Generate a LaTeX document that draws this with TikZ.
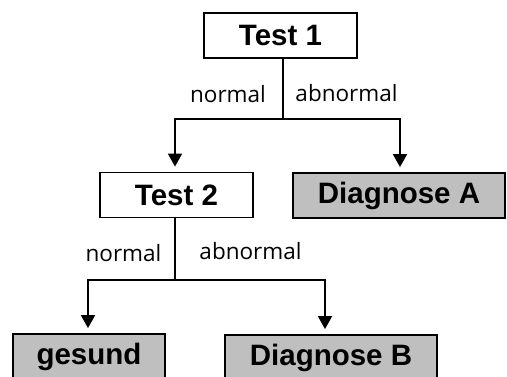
\documentclass[tikz,border=0pt]{standalone}
\usepackage{fontspec}
\setmainfont{Liberation Sans}
\newfontfamily\labelfont{Open Sans}
\usetikzlibrary{arrows.meta,positioning,calc}

\begin{document}
\begin{tikzpicture}[x=1pt,y=-1pt,
        box/.style={draw, line width=1.8pt, minimum height=45pt, inner sep=0pt,
            font=\fontsize{29.5}{31}\selectfont\bfseries},
        result/.style={box, fill=black!25},
        branch/.style={font=\labelfont\fontsize{22.5}{24}\selectfont, inner sep=0pt, anchor=base},
        line/.style={line width=1.8pt},
        arr/.style={line, -{Triangle[width=14pt,length=13pt]}, shorten >=5pt}]
            \path[use as bounding box, clip] (0,0) rectangle (507,377);
            \node[box, minimum width=153pt] (test1) at (280.5,35.5) {Test 1};
            \node[box, minimum width=153pt] (test2) at (176.5,195) {Test 2};
            \node[result, minimum width=212pt] (diagA) at (399,195.5) {Diagnose A};
            \node[result, minimum width=152pt] (gesund) at (89,356.5) {gesund};
            \node[result, minimum width=212pt] (diagB) at (331,357.5) {Diagnose B};
            \draw[line] ([xshift=2.5pt]test1.south) -- ++(0,60) coordinate (split1);
            \draw[arr] (split1) -| ([xshift=-1.5pt]test2.north);
            \draw[arr] (split1) -| ([xshift=1pt]diagA.north);
            \draw[line] ([xshift=-1.5pt]test2.south) -- ++(0,62) coordinate (split2);
            \draw[arr] (split2) -| ([xshift=-1pt]gesund.north);
            \draw[arr] (split2) -| ([xshift=-6pt]diagB.north);
            \node[branch] (normal1) at (228,103) {normal};
            \node[branch] (abnormal1) at (346.5,102) {abnormal};
            \node[branch] (normal2) at (123.5,261.5) {normal};
            \node[branch] (abnormal2) at (250.5,260) {abnormal};
        \end{tikzpicture}
\end{document}
